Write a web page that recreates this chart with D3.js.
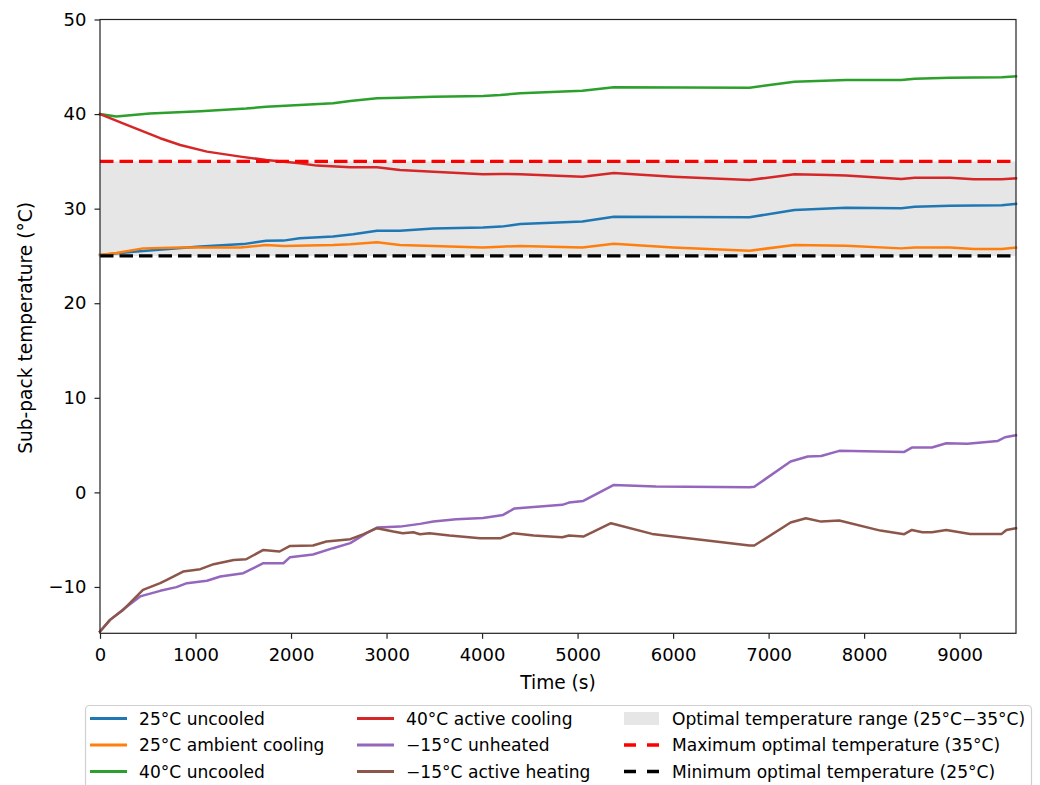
<!DOCTYPE html>
<html>
<head>
<meta charset="utf-8">
<script src="https://cdn.jsdelivr.net/npm/d3@7"></script>
<style>
  body { margin: 0; background: #fff; }
  svg text { font-family: "DejaVu Sans", sans-serif; fill: #000; }
</style>
</head>
<body>
<svg id="chart" width="1040" height="785"></svg>
<script>
// sub-pack temperature traces, [time (s), temperature (°C)]
const uncooled25 = [[0,25.1],[350,25.45],[1050,26.0],[1500,26.25],[1740,26.6],[1920,26.62],[2090,26.87],[2440,27.05],[2650,27.3],[2900,27.67],[3140,27.67],[3490,27.9],[4010,28.0],[4200,28.1],[4400,28.38],[5050,28.63],[5380,29.15],[6800,29.1],[7270,29.85],[7810,30.1],[8390,30.05],[8530,30.2],[8900,30.3],[9440,30.36],[9590,30.5]];
const ambient25 = [[0,25.1],[170,25.3],[450,25.8],[840,25.9],[1470,25.9],[1740,26.15],[1920,26.05],[2440,26.15],[2620,26.23],[2900,26.44],[3140,26.16],[3490,26.05],[4010,25.9],[4190,25.98],[4400,26.05],[5050,25.9],[5380,26.3],[6000,25.9],[6800,25.55],[7270,26.16],[7810,26.09],[8390,25.8],[8530,25.9],[8900,25.9],[9150,25.73],[9440,25.73],[9590,25.87]];
const uncooled40 = [[0,40.0],[170,39.75],[520,40.05],[1050,40.3],[1530,40.58],[1740,40.78],[2090,40.96],[2440,41.14],[2620,41.38],[2900,41.67],[3140,41.73],[3490,41.84],[4010,41.91],[4190,42.02],[4400,42.2],[5050,42.47],[5380,42.83],[6800,42.79],[7010,43.08],[7270,43.43],[7810,43.6],[8390,43.6],[8530,43.74],[8900,43.85],[9440,43.89],[9590,44.0]];
const activeCooling40 = [[0,40.0],[280,38.85],[630,37.45],[840,36.73],[1120,36.03],[1470,35.5],[1740,35.15],[2090,34.8],[2270,34.55],[2620,34.38],[2900,34.38],[3140,34.09],[3490,33.91],[4010,33.64],[4190,33.67],[4400,33.64],[5050,33.38],[5380,33.77],[6000,33.38],[6800,33.03],[7270,33.64],[7630,33.56],[7810,33.5],[8390,33.14],[8530,33.28],[8900,33.28],[9150,33.1],[9440,33.1],[9590,33.2]];
const unheatedMinus15 = [[0,-14.71],[105,-13.48],[245,-12.35],[420,-11.0],[630,-10.41],[800,-10.02],[910,-9.6],[1120,-9.35],[1260,-8.9],[1500,-8.54],[1710,-7.49],[1920,-7.49],[1990,-6.85],[2230,-6.57],[2440,-5.9],[2620,-5.37],[2790,-4.31],[2900,-3.72],[3140,-3.62],[3350,-3.33],[3490,-3.09],[3730,-2.83],[4010,-2.7],[4220,-2.38],[4340,-1.7],[4840,-1.32],[4910,-1.08],[5060,-0.9],[5380,0.79],[5820,0.61],[6800,0.55],[6850,0.6],[7230,3.26],[7410,3.79],[7550,3.85],[7740,4.39],[8150,4.32],[8420,4.28],[8500,4.74],[8710,4.74],[8860,5.2],[9080,5.13],[9400,5.44],[9475,5.83],[9590,6.05]];
const heatingMinus15 = [[0,-14.71],[105,-13.48],[245,-12.4],[450,-10.3],[630,-9.6],[700,-9.25],[870,-8.37],[1050,-8.12],[1190,-7.59],[1400,-7.14],[1530,-7.07],[1710,-6.08],[1880,-6.25],[1990,-5.66],[2230,-5.62],[2370,-5.2],[2620,-4.95],[2760,-4.42],[2900,-3.79],[3070,-4.14],[3170,-4.31],[3280,-4.21],[3350,-4.42],[3450,-4.31],[3660,-4.56],[3980,-4.84],[4190,-4.86],[4330,-4.31],[4540,-4.56],[4840,-4.74],[4910,-4.56],[5060,-4.67],[5350,-3.26],[5780,-4.39],[6800,-5.62],[6850,-5.62],[7230,-3.19],[7390,-2.73],[7550,-3.09],[7740,-2.98],[8170,-4.04],[8420,-4.42],[8500,-3.97],[8610,-4.21],[8710,-4.21],[8860,-3.97],[9110,-4.39],[9440,-4.39],[9490,-3.97],[9590,-3.79]];

const seriesNames = ["25°C uncooled", "25°C ambient cooling", "40°C uncooled", "40°C active cooling", "\u221215°C unheated", "\u221215°C active heating"];
const seriesColors = ["#1f77b4", "#ff7f0e", "#2ca02c", "#d62728", "#9467bd", "#8c564b"];
const seriesData = [uncooled25, ambient25, uncooled40, activeCooling40, unheatedMinus15, heatingMinus15];

const optimalMin = 25, optimalMax = 35;
const refLabels = ["Optimal temperature range (25°C\u221235°C)", "Maximum optimal temperature (35°C)", "Minimum optimal temperature (25°C)"];
const xTicks = [0, 1000, 2000, 3000, 4000, 5000, 6000, 7000, 8000, 9000];
const yTicks = [-10, 0, 10, 20, 30, 40, 50];
const xMax = 9590, yMin = -14.9, yMax = 50;

const svg = d3.select("#chart");
const plotLeft = 100, plotRight = 1016, plotTop = 19.5, plotBottom = 633.3;
const tickFs = 18, labelFs = 18.6, legendFs = 17.1;

const x = d3.scaleLinear().domain([0, xMax]).range([plotLeft, plotRight]);
const y = d3.scaleLinear().domain([yMin, yMax]).range([plotBottom, plotTop]);

// optimal band
svg.append("rect")
  .attr("x", x(0)).attr("width", x(xMax) - x(0))
  .attr("y", y(optimalMax)).attr("height", y(optimalMin) - y(optimalMax))
  .attr("fill", "#e6e6e6");

const line = d3.line().x(d => x(d[0])).y(d => y(d[1]));

seriesData.forEach(function(s, i) {
  svg.append("path")
    .datum(s)
    .attr("d", line)
    .attr("fill", "none")
    .attr("stroke", seriesColors[i])
    .attr("stroke-width", 2.5)
    .attr("stroke-linejoin", "round")
    .attr("stroke-linecap", "square");
});

// reference lines
[[optimalMax, "#ff0000"], [optimalMin, "#000000"]].forEach(function(r) {
  svg.append("line")
    .attr("x1", x(0)).attr("x2", x(xMax))
    .attr("y1", y(r[0])).attr("y2", y(r[0]))
    .attr("stroke", r[1])
    .attr("stroke-width", 3.3)
    .attr("stroke-dasharray", "13.5,6");
});

// axes
const xAxis = d3.axisBottom(x).tickValues(xTicks).tickSize(5.5).tickPadding(9).tickFormat(d3.format("d"));
const yAxis = d3.axisLeft(y).tickValues(yTicks).tickSize(5.5).tickPadding(8)
  .tickFormat(d => d < 0 ? "\u2212" + Math.abs(d) : d);

const gx = svg.append("g").attr("transform", `translate(0,${plotBottom})`).call(xAxis);
const gy = svg.append("g").attr("transform", `translate(${plotLeft},0)`).call(yAxis);
[gx, gy].forEach(function(g) {
  g.select(".domain").remove();
  g.selectAll(".tick line").attr("stroke", "#222").attr("stroke-width", 1.2);
  g.selectAll(".tick text").attr("font-size", tickFs).attr("font-family", "DejaVu Sans").attr("fill", "#222");
});

// frame
svg.append("rect")
  .attr("x", plotLeft).attr("y", plotTop)
  .attr("width", plotRight - plotLeft).attr("height", plotBottom - plotTop)
  .attr("fill", "none").attr("stroke", "#222").attr("stroke-width", 1.2);

svg.append("text")
  .attr("x", (plotLeft + plotRight) / 2).attr("y", 689)
  .attr("text-anchor", "middle").attr("font-size", labelFs).attr("fill", "#222")
  .text("Time (s)");

svg.append("text")
  .attr("transform", `translate(32,${(plotTop + plotBottom) / 2 + 1.5}) rotate(-90)`)
  .attr("text-anchor", "middle").attr("font-size", labelFs).attr("fill", "#222")
  .text("Sub-pack temperature (°C)");

// legend
const lg = svg.append("g");
lg.append("rect")
  .attr("x", 85.5).attr("y", 705.5).attr("width", 946).attr("height", 100)
  .attr("rx", 4).attr("fill", "#fff").attr("stroke", "#d0d0d0").attr("stroke-width", 1.2);

const rowY = [718.5, 745, 771.5];
const colX = [90, 357, 623];
const textX = [139, 406, 672];
const handleW = 37;

seriesNames.forEach(function(name, i) {
  const c = Math.floor(i / 3), r = i % 3;
  lg.append("line")
    .attr("x1", colX[c]).attr("x2", colX[c] + handleW)
    .attr("y1", rowY[r]).attr("y2", rowY[r])
    .attr("stroke", seriesColors[i]).attr("stroke-width", 2.8);
  lg.append("text")
    .attr("x", textX[c]).attr("y", rowY[r]).attr("dy", "0.36em")
    .attr("font-size", legendFs).attr("fill", "#222").text(name);
});

lg.append("rect")
  .attr("x", colX[2] + 1).attr("y", rowY[0] - 6.5)
  .attr("width", handleW - 2).attr("height", 13)
  .attr("fill", "#e6e6e6");
[["#ff0000", 1], ["#000000", 2]].forEach(function(h) {
  lg.append("line")
    .attr("x1", colX[2] + 1).attr("x2", colX[2] + 1 + handleW - 1)
    .attr("y1", rowY[h[1]]).attr("y2", rowY[h[1]])
    .attr("stroke", h[0]).attr("stroke-width", 3.3)
    .attr("stroke-dasharray", "12,11");
});
refLabels.forEach(function(name, r) {
  lg.append("text")
    .attr("x", textX[2]).attr("y", rowY[r]).attr("dy", "0.36em")
    .attr("font-size", legendFs).attr("fill", "#222").text(name);
});
</script>
</body>
</html>
